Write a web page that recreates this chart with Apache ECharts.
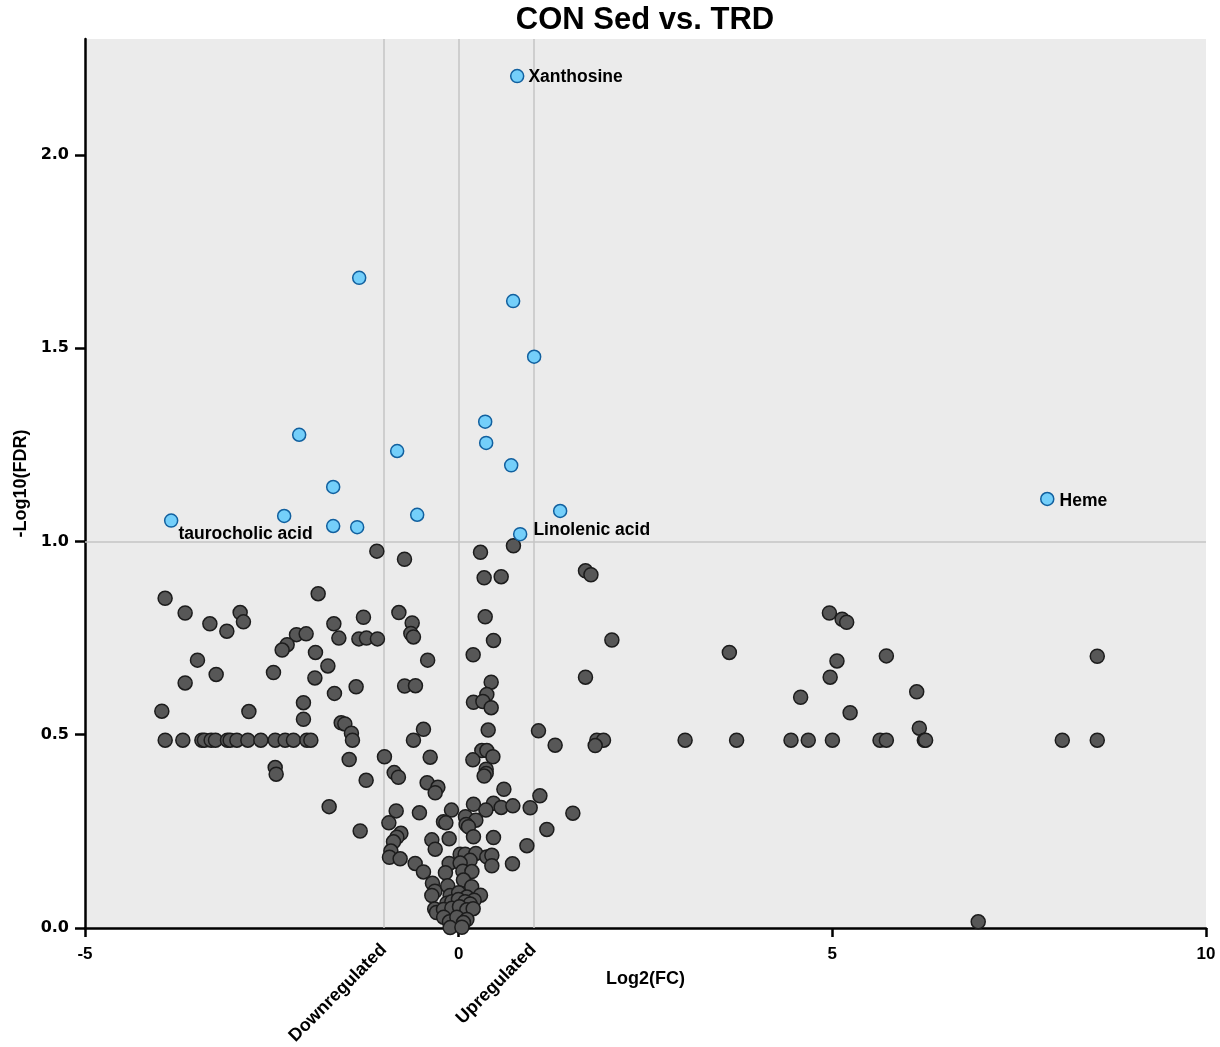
<!DOCTYPE html>
<html>
<head>
<meta charset="utf-8">
<title>CON Sed vs. TRD</title>
<script src="https://cdn.jsdelivr.net/npm/echarts@6/dist/echarts.min.js"></script>
<style>
  html, body { margin: 0; padding: 0; background: #ffffff; }
  #chart { width: 1220px; height: 1047px; }
</style>
</head>
<body>
<div id="chart"></div>
<script>
// Volcano plot: log2 fold change vs. -log10(FDR)

// Metabolites passing the FDR cut-off
const sigNames = ['Xanthosine', '', '', '', '', '', '', '', '', '', '', 'Heme',
  'taurocholic acid', '', '', '', '', 'Linolenic acid'];
const sigLog2FC = [0.783, -1.331, 0.729, 1.010, 0.355, -2.134, 0.368, -0.823, 0.703,
  -1.679, 1.358, 7.876, -3.847, -2.335, -0.555, -1.679, -1.358, 0.823];
const sigNegLog10FDR = [2.204, 1.682, 1.622, 1.478, 1.310, 1.276, 1.255, 1.234, 1.197,
  1.141, 1.079, 1.110, 1.054, 1.066, 1.069, 1.040, 1.037, 1.019];

// Remaining metabolites
const nsLog2FC = [
  -1.095, -0.725, 0.292, 0.733, 0.341, 0.569, 1.697, 1.770, -3.928, -1.880,
  -3.660, -2.924, -2.880, -3.329, -3.102, -0.800, -0.622, -0.640, -0.605, -1.274,
  -1.670, -1.603, -1.335, -1.234, -1.087, -2.170, -2.041, -2.295, -2.362, -1.916,
  -3.495, -0.415, -1.750, -3.245, -2.478, -3.660, -1.924, -1.662, -1.372, -0.723,
  -0.578, -2.077, -3.972, -2.807, -2.077, -1.572, -1.523, -1.435, -1.421, -0.471,
  -0.605, -0.381, -0.993, -1.465,
  -3.927, -3.691, -3.436, -3.402, -3.312, -3.254, -3.094, -3.058, -2.968, -2.821,
  -2.647, -2.455, -2.322, -2.211, -2.031, -1.978,
  0.355, 0.466, 0.194, 2.050, 1.697, 0.435, 0.377, 0.198, 0.324, 0.435,
  0.395, 1.068, 1.291, 1.849, 1.938, 1.827,
  0.310, 0.377, 0.458, 0.190, -0.863, -0.806, 0.368, 0.368, 0.341, -0.422,
  -0.278, -0.314, 0.605, 1.087, 1.528, -0.836, -0.525, -0.096, 0.198, 0.466,
  0.364, 0.569, 0.725, 0.957, 1.180, -0.934, -0.203, -0.171, 0.091, 0.230,
  0.100, 0.131, -0.773, -0.827, -0.872, -0.359, -0.314, -0.127, 0.198, 0.466,
  0.913, -0.907, -0.926, -0.783, -0.582, -0.471, -0.127, -0.177, 0.020, 0.087,
  0.230, 0.154, 0.020, 0.377, 0.444, 0.444, 0.720, 0.056, 0.177, 0.064,
  -0.351, -0.318, -0.359, -0.147, 0.174, 0.292, -0.114, 0.000, 0.110, 0.207,
  -0.158, -0.091, -0.003, 0.087, 0.154, -0.321, -0.297, -0.203, -0.091, 0.011,
  0.110, 0.194, -0.201, -0.123, -0.024, 0.110, 0.064, -0.114, 0.043,
  -2.455, -2.442, -1.733, -1.238, -1.318,
  4.961, 5.131, 5.192, 3.622, 5.062, 5.723, 8.545, 4.971, 4.576, 6.129,
  5.238, 6.164,
  3.030, 3.719, 4.447, 4.678, 5.001, 5.638, 5.723, 6.231, 6.248, 8.077,
  8.545, 6.952
];
const nsNegLog10FDR = [
  0.975, 0.954, 0.972, 0.989, 0.906, 0.909, 0.924, 0.914, 0.853, 0.865,
  0.815, 0.816, 0.792, 0.787, 0.768, 0.816, 0.789, 0.762, 0.753, 0.804,
  0.787, 0.750, 0.748, 0.750, 0.748, 0.759, 0.761, 0.733, 0.719, 0.713,
  0.693, 0.693, 0.678, 0.656, 0.661, 0.634, 0.647, 0.607, 0.624, 0.626,
  0.627, 0.583, 0.561, 0.560, 0.540, 0.531, 0.528, 0.504, 0.486, 0.514,
  0.486, 0.442, 0.443, 0.436,
  0.486, 0.486, 0.486, 0.486, 0.486, 0.486, 0.486, 0.486, 0.486, 0.486,
  0.486, 0.486, 0.486, 0.486, 0.486, 0.486,
  0.805, 0.744, 0.707, 0.745, 0.649, 0.636, 0.604, 0.584, 0.586, 0.570,
  0.512, 0.510, 0.473, 0.486, 0.486, 0.472,
  0.459, 0.459, 0.443, 0.435, 0.402, 0.390, 0.411, 0.400, 0.393, 0.376,
  0.364, 0.350, 0.359, 0.342, 0.297, 0.303, 0.298, 0.305, 0.320, 0.323,
  0.305, 0.312, 0.316, 0.311, 0.255, 0.272, 0.275, 0.272, 0.288, 0.279,
  0.268, 0.262, 0.245, 0.235, 0.223, 0.228, 0.204, 0.231, 0.236, 0.234,
  0.213, 0.199, 0.183, 0.179, 0.167, 0.145, 0.167, 0.143, 0.191, 0.191,
  0.193, 0.175, 0.168, 0.184, 0.188, 0.161, 0.166, 0.147, 0.146, 0.124,
  0.116, 0.095, 0.084, 0.109, 0.107, 0.085, 0.084, 0.091, 0.080, 0.072,
  0.064, 0.068, 0.074, 0.068, 0.062, 0.049, 0.040, 0.048, 0.051, 0.055,
  0.047, 0.050, 0.028, 0.016, 0.028, 0.022, 0.014, 0.001, 0.002,
  0.415, 0.398, 0.314, 0.382, 0.251,
  0.815, 0.799, 0.791, 0.713, 0.691, 0.704, 0.703, 0.649, 0.597, 0.611,
  0.557, 0.517,
  0.486, 0.486, 0.486, 0.486, 0.486, 0.486, 0.486, 0.486, 0.486, 0.486,
  0.486, 0.016
];

// Axis ticks and cut-off lines
const xTicks = [-5, 0, 5, 10];
const yTicks = [0, 0.5, 1.0, 1.5, 2.0];
const foldLines = [-1, 0, 1];
const fdrLine = 1;
const directionTicks = [-1, 1];
const directionLabels = ['Downregulated', 'Upregulated'];

const FONT = "'Liberation Sans', Arial, Helvetica, sans-serif";

// Pixel nudges for the annotated metabolite names
const labelOffsets = {
  'Xanthosine': [-1, 1],
  'Heme': [0, 2],
  'taurocholic acid': [-5, 14],
  'Linolenic acid': [1, -4]
};

const nsData = nsLog2FC.map((x, i) => [x, nsNegLog10FDR[i]]);
const sigData = sigLog2FC.map((x, i) => {
  const name = sigNames[i];
  const item = { name: name, value: [x, sigNegLog10FDR[i]] };
  if (name) item.label = { show: true };
  return item;
});

const chart = echarts.init(document.getElementById('chart'), null, { renderer: 'canvas' });

chart.setOption({
  animation: false,
  backgroundColor: '#ffffff',
  textStyle: { fontFamily: FONT },
  graphic: [{
    type: 'text',
    x: 645,
    y: 20,
    style: {
      text: 'CON Sed vs. TRD',
      fill: '#000',
      font: 'bold 31px ' + FONT,
      align: 'center',
      verticalAlign: 'middle'
    }
  }],
  grid: {
    left: 85, right: 14, top: 39, bottom: 119,
    outerBoundsMode: 'none',
    containLabel: false,
    show: true, backgroundColor: '#ebebeb', borderWidth: 0
  },
  xAxis: [{
    type: 'value',
    min: -5, max: 10, interval: 5,
    name: 'Log2(FC)',
    nameLocation: 'middle',
    nameGap: 42,
    nameTextStyle: { fontSize: 18, fontWeight: 'bold', color: '#000', fontFamily: FONT },
    axisLine: { show: true, onZero: false, lineStyle: { color: '#000', width: 2.5 } },
    axisTick: { show: true, length: 9, lineStyle: { color: '#000', width: 2.5 }, customValues: xTicks },
    axisLabel: { customValues: xTicks, margin: 18, fontSize: 17, fontWeight: 'bold', color: '#000', fontFamily: FONT },
    splitLine: { show: false }
  }, {
    type: 'value',
    min: -5, max: 10,
    position: 'bottom',
    axisLine: { show: false },
    axisTick: { show: false },
    splitLine: { show: false },
    axisLabel: {
      customValues: directionTicks,
      rotate: 45,
      margin: 19,
      fontSize: 18,
      fontWeight: 'bold',
      color: '#000',
      fontFamily: FONT,
      formatter: v => directionLabels[directionTicks.indexOf(v)]
    }
  }],
  yAxis: {
    type: 'value',
    min: 0, max: 2.3,
    name: '-Log10(FDR)',
    nameLocation: 'middle',
    nameGap: 51,
    nameRotate: 90,
    nameTextStyle: { fontSize: 18, fontWeight: 'bold', color: '#000', fontFamily: FONT },
    axisLine: { show: true, onZero: false, lineStyle: { color: '#000', width: 2.5 } },
    axisTick: { show: true, length: 10, lineStyle: { color: '#000', width: 2.5 }, customValues: yTicks },
    axisLabel: {
      customValues: yTicks, margin: 16, fontSize: 16, fontWeight: 'bold', color: '#000',
      fontFamily: "'DejaVu Sans', Verdana, sans-serif",
      formatter: v => v.toFixed(1)
    },
    splitLine: { show: false }
  },
  series: [{
    // cut-off lines
    type: 'scatter',
    data: [],
    z: 1,
    markLine: {
      silent: true,
      z: 1,
      symbol: 'none',
      label: { show: false },
      lineStyle: { color: '#c4c4c4', width: 1.5, type: 'solid' },
      data: foldLines.map(v => ({ xAxis: v })).concat([{ yAxis: fdrLine }])
    }
  }, {
    name: 'Not significant',
    type: 'scatter',
    z: 3,
    symbolSize: 14,
    itemStyle: { color: '#575757', borderColor: '#1c1c1c', borderWidth: 1.5, opacity: 1 },
    data: nsData
  }, {
    name: 'Significant',
    type: 'scatter',
    z: 4,
    symbolSize: 13,
    itemStyle: { color: '#74cffa', borderColor: '#11609f', borderWidth: 1.5, opacity: 1 },
    label: {
      show: false,
      position: 'right',
      distance: 5,
      formatter: '{b}',
      fontSize: 17.5,
      fontWeight: 'bold',
      color: '#000',
      fontFamily: FONT
    },
    labelLayout: function (params) {
      const o = labelOffsets[sigNames[params.dataIndex]];
      return o ? { dx: o[0], dy: o[1], hideOverlap: false } : { hideOverlap: false };
    },
    data: sigData
  }]
});
</script>
</body>
</html>
